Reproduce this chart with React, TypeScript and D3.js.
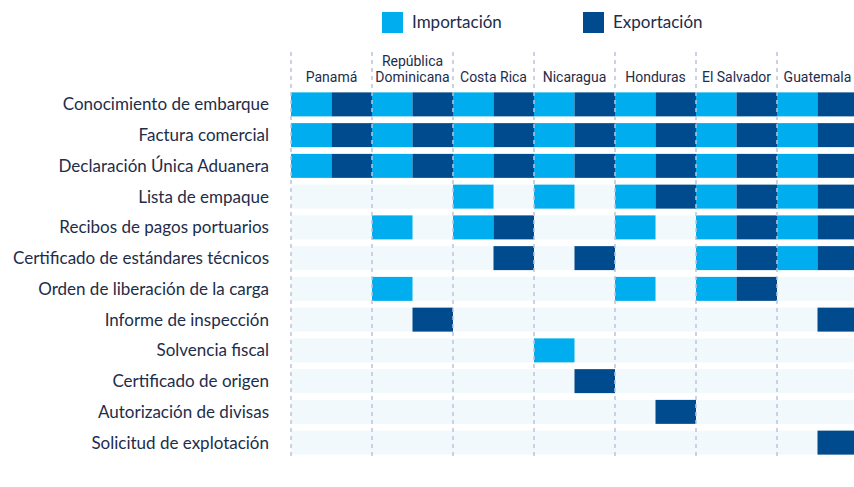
import React from "react";
import * as d3 from "d3";

const countries = ["Panamá", "República\nDominicana", "Costa Rica", "Nicaragua", "Honduras", "El Salvador", "Guatemala"];
const documents = [
  "Conocimiento de embarque",
  "Factura comercial",
  "Declaración Única Aduanera",
  "Lista de empaque",
  "Recibos de pagos portuarios",
  "Certificado de estándares técnicos",
  "Orden de liberación de la carga",
  "Informe de inspección",
  "Solvencia fiscal",
  "Certificado de origen",
  "Autorización de divisas",
  "Solicitud de explotación",
];
const series = ["Importación", "Exportación"];
// rows = documents, columns = countries (1 = required)
const importacion = [
  [1, 1, 1, 1, 1, 1, 1],
  [1, 1, 1, 1, 1, 1, 1],
  [1, 1, 1, 1, 1, 1, 1],
  [0, 0, 1, 1, 1, 1, 1],
  [0, 1, 1, 0, 1, 1, 1],
  [0, 0, 0, 0, 0, 1, 1],
  [0, 1, 0, 0, 1, 1, 0],
  [0, 0, 0, 0, 0, 0, 0],
  [0, 0, 0, 1, 0, 0, 0],
  [0, 0, 0, 0, 0, 0, 0],
  [0, 0, 0, 0, 0, 0, 0],
  [0, 0, 0, 0, 0, 0, 0],
];
const exportacion = [
  [1, 1, 1, 1, 1, 1, 1],
  [1, 1, 1, 1, 1, 1, 1],
  [1, 1, 1, 1, 1, 1, 1],
  [0, 0, 0, 0, 1, 1, 1],
  [0, 0, 1, 0, 0, 1, 1],
  [0, 0, 1, 1, 0, 1, 1],
  [0, 0, 0, 0, 0, 1, 0],
  [0, 1, 0, 0, 0, 0, 1],
  [0, 0, 0, 0, 0, 0, 0],
  [0, 0, 0, 1, 0, 0, 0],
  [0, 0, 0, 0, 1, 0, 0],
  [0, 0, 0, 0, 0, 0, 1],
];

const W = 854;
const H = 487;
const COL_IMP = "#00aeef";
const COL_EXP = "#004b8d";
const BG = "#f2f9fd";
const TEXT = "#1d2d4a";
const FONT = "Lato, 'Open Sans', sans-serif";
const HFONT = "Roboto, sans-serif";

export default function App() {
  const x = d3.scaleBand<string>().domain(countries).range([291, 858]).padding(0);
  const sub = d3.scaleBand<string>().domain(series).range([0, x.bandwidth()]).padding(0);
  const y = d3.scaleBand<string>().domain(documents).range([89, 458]).paddingInner(0.22).paddingOuter(0.11);
  const colors = d3.scaleOrdinal<string, string>().domain(series).range([COL_IMP, COL_EXP]);
  const data = [importacion, exportacion];

  return (
    <svg width={W} height={H} style={{ position: "absolute", left: 0, top: 0 }} fontFamily={FONT}>
      {/* legend */}
      <g>
        <rect x={382} y={12} width={21} height={21} fill={COL_IMP} />
        <text x={412} y={28} fontSize={17} fill={TEXT}>Importación</text>
        <rect x={583} y={12} width={21} height={21} fill={COL_EXP} />
        <text x={613} y={28} fontSize={17} fill={TEXT}>Exportación</text>
      </g>
      {/* row backgrounds */}
      {documents.map((d) => (
        <rect key={"bg" + d} x={x.range()[0]} y={y(d)} width={x.range()[1] - x.range()[0]} height={y.bandwidth()} fill={BG} />
      ))}
      {/* bars */}
      {documents.map((d, ri) =>
        countries.map((c, ci) =>
          series.map((s, si) =>
            data[si][ri][ci] ? (
              <rect key={`${d}-${c}-${s}`} x={(x(c) as number) + (sub(s) as number)} y={y(d)} width={sub.bandwidth()} height={y.bandwidth()} fill={colors(s)} />
            ) : null
          )
        )
      )}
      {/* dashed separators */}
      {countries.map((c) => (
        <line key={"l" + c} x1={x(c)} x2={x(c)} y1={52} y2={456} stroke="#bcc4dc" strokeWidth={1.5} strokeDasharray="4 4" />
      ))}
      {/* column headers */}
      {countries.map((c) => {
        const lines = c.split("\n");
        const cx = (x(c) as number) + x.bandwidth() / 2;
        return (
          <text key={"h" + c} x={cx} textAnchor="middle" fontSize={14} fill={TEXT} fontFamily={HFONT}>
            {lines.map((ln, i) => (
              <tspan key={i} x={cx} y={82 - (lines.length - 1 - i) * 16}>{ln}</tspan>
            ))}
          </text>
        );
      })}
      {/* row labels */}
      {documents.map((d) => (
        <text key={"r" + d} x={269} y={(y(d) as number) + y.bandwidth() / 2} dy="0.35em" textAnchor="end" fontSize={17} fill={TEXT}>
          {d}
        </text>
      ))}
    </svg>
  );
}
